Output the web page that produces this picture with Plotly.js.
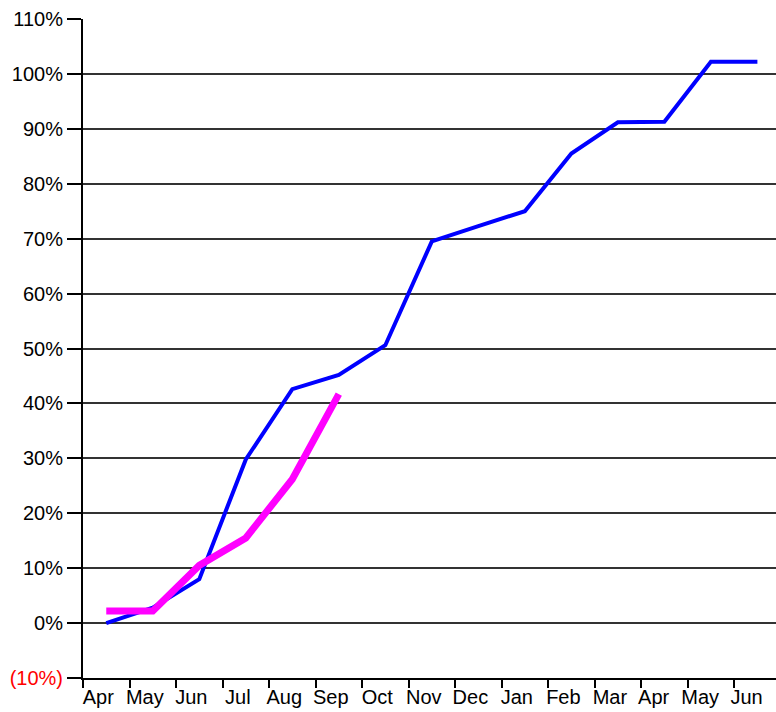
<!DOCTYPE html>
<html><head><meta charset="utf-8">
<script src="https://cdn.plot.ly/plotly-3.0.1.min.js"></script>
<style>html,body{margin:0;padding:0;background:#fff}</style>
</head><body><div id="chart" style="width:776px;height:712px"></div>
<script>
const months = ["Apr","May","Jun","Jul","Aug","Sep","Oct","Nov","Dec","Jan","Feb","Mar","Apr ","May ","Jun "];
const blueValues = [0, 2.8, 8, 29.8, 42.6, 45.2, 50.6, 69.5, 72.3, 75.0, 85.5, 91.2, 91.3, 102.2, 102.2];
const magentaValues = [2.2, 2.2, 10.5, 15.5, 26.2, 41.7];
const yTickVals = [-10,0,10,20,30,40,50,60,70,80,90,100,110];
const yTickText = ['<span style="color:#ff0000">(10%)</span>',"0%","10%","20%","30%","40%","50%","60%","70%","80%","90%","100%","110%"];

const tickFont = {family: "Liberation Sans, Arial, sans-serif", size: 20, color: "#000"};
const traces = [
  {x: months, y: blueValues, type: "scatter", mode: "lines",
   line: {color: "#0000ff", width: 4}, hoverinfo: "skip"},
  {x: months.slice(0, magentaValues.length), y: magentaValues, type: "scatter", mode: "lines",
   line: {color: "#ff00ff", width: 7}, hoverinfo: "skip"}
];
const layout = {
  width: 776, height: 712,
  margin: {l: 83, r: 0, t: 19, b: 34},
  paper_bgcolor: "#fff", plot_bgcolor: "#fff",
  showlegend: false,
  font: tickFont,
  xaxis: {
    type: "category", range: [-0.5, 14.4], tickfont: tickFont, tickangle: 0,
    tickson: "boundaries", ticks: "outside", ticklen: 8, tickwidth: 2, tickcolor: "#000",
    showline: true, linecolor: "#000", linewidth: 2,
    showgrid: false, zeroline: false, ticklabelshift: -8, ticklabelstandoff: 0
  },
  yaxis: {
    range: [-10, 110], tickmode: "array", tickvals: yTickVals, ticktext: yTickText, tickfont: tickFont,
    ticks: "outside", ticklen: 14, tickwidth: 2, tickcolor: "#000",
    showline: true, linecolor: "#000", linewidth: 2,
    showgrid: true, gridcolor: "#333", gridwidth: 2, zeroline: false,
    ticklabelstandoff: 0
  }
};
Plotly.newPlot("chart", traces, layout, {displayModeBar: false, staticPlot: true});
</script></body></html>
